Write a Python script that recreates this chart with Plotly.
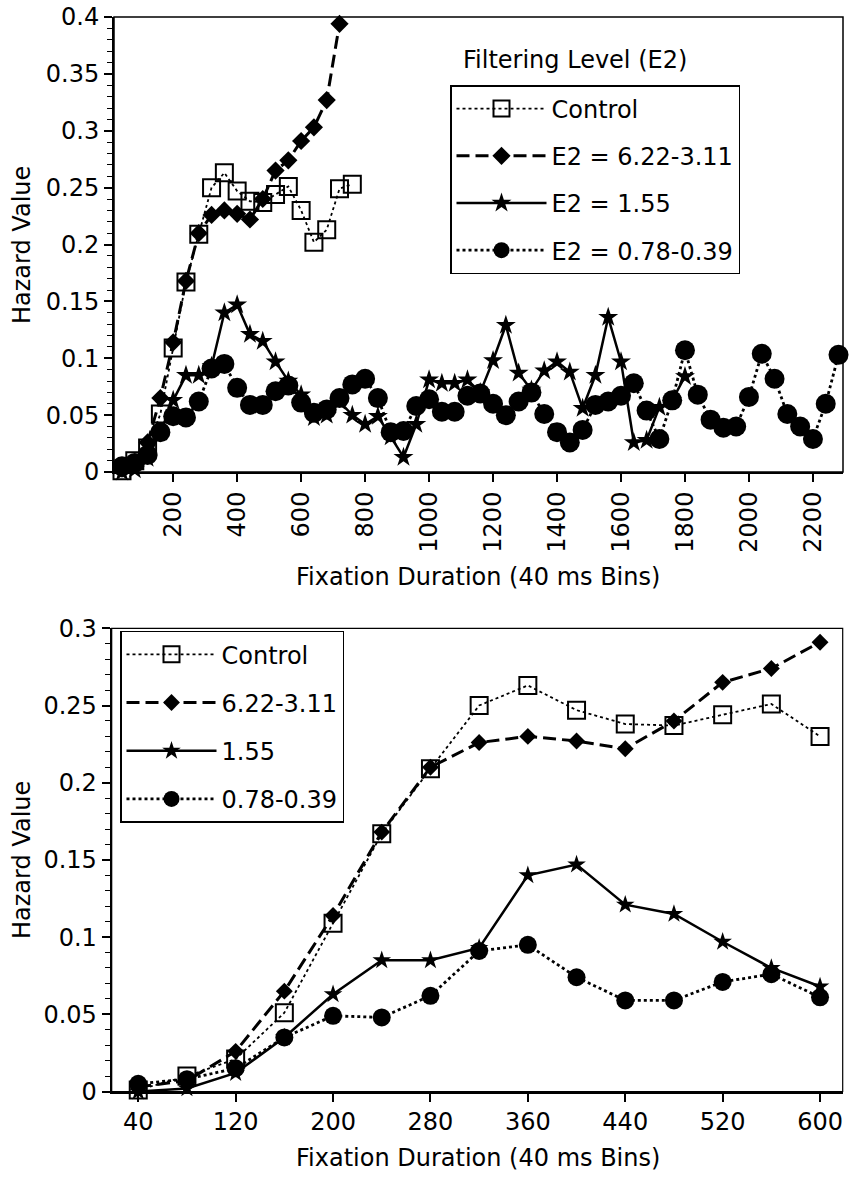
import plotly.graph_objects as go

# ---------------- data ----------------
bins_ms = list(range(40, 2281, 40))   # 40 ms bins: 40 ... 2280

control = [0.001, 0.010, 0.021, 0.051, 0.109, 0.167, 0.209, 0.250, 0.263, 0.247,
           0.238, 0.237, 0.244, 0.251, 0.230, 0.202, 0.213, 0.249, 0.253]
e2_622_311 = [0.003, 0.007, 0.026, 0.065, 0.114, 0.168, 0.210, 0.226, 0.230, 0.227,
              0.222, 0.240, 0.265, 0.274, 0.291, 0.303, 0.327, 0.394]
e2_155 = [0.000, 0.002, 0.012, 0.035, 0.063, 0.085, 0.085, 0.093, 0.140, 0.147,
          0.121, 0.115, 0.097, 0.080, 0.068, 0.048, 0.050, 0.062, 0.050, 0.042,
          0.049, 0.031, 0.013, 0.042, 0.081, 0.078, 0.078, 0.081, 0.070, 0.098,
          0.129, 0.087, 0.072, 0.089, 0.097, 0.088, 0.056, 0.085, 0.136, 0.097,
          0.026, 0.028, 0.057, 0.063, 0.084]
e2_078_039 = [0.005, 0.008, 0.015, 0.035, 0.049, 0.048, 0.062, 0.091, 0.095, 0.074,
              0.059, 0.059, 0.071, 0.076, 0.061, 0.052, 0.055, 0.065, 0.077, 0.082,
              0.065, 0.035, 0.036, 0.058, 0.064, 0.053, 0.053, 0.067, 0.069, 0.060,
              0.050, 0.062, 0.070, 0.051, 0.035, 0.026, 0.037, 0.059, 0.062, 0.067,
              0.078, 0.054, 0.029, 0.063, 0.107, 0.068, 0.046, 0.039, 0.040, 0.066,
              0.104, 0.082, 0.051, 0.040, 0.029, 0.060, 0.103]

series = [control, e2_622_311, e2_155, e2_078_039]
top_labels = ["Control", "E2 = 6.22-3.11", "E2 = 1.55", "E2 = 0.78-0.39"]
bottom_labels = ["Control", "6.22-3.11", "1.55", "0.78-0.39"]
bottom_n_bins = 15   # bottom panel shows the bins up to 600 ms

top_xticks = [200, 400, 600, 800, 1000, 1200, 1400, 1600, 1800, 2000, 2200]
bottom_xticks = [40, 120, 200, 280, 360, 440, 520, 600]

# ---------------- styles ----------------
FONT = "DejaVu Sans"
FS = 24
W, H = 849, 1184

line_styles = [
    dict(color="black", width=1.8, dash="dot"),
    dict(color="black", width=3, dash="13px,6px"),
    dict(color="black", width=2.5),
    dict(color="black", width=2.8, dash="dot"),
]
symbols = ["square-open", "diamond", "star", "circle"]
top_sizes = [17, 14, 15, 20]
bottom_sizes = [17, 13, 14, 18]

fig = go.Figure()

for i, vals in enumerate(series):
    fig.add_trace(go.Scatter(
        x=bins_ms[:len(vals)], y=vals, mode="lines+markers", name=top_labels[i],
        line=line_styles[i],
        marker=dict(symbol=symbols[i], size=top_sizes[i], color="black",
                    line=dict(width=2 if i == 0 else 0, color="black")),
        xaxis="x", yaxis="y", legend="legend", legendgroup="t%d" % i,
        cliponaxis=False,
    ))

for i, vals in enumerate(series):
    fig.add_trace(go.Scatter(
        x=bins_ms[:bottom_n_bins], y=vals[:bottom_n_bins], mode="lines+markers",
        name=bottom_labels[i],
        line=line_styles[i],
        marker=dict(symbol=symbols[i], size=bottom_sizes[i], color="black",
                    line=dict(width=2 if i == 0 else 0, color="black")),
        xaxis="x2", yaxis="y2", legend="legend2", legendgroup="b%d" % i,
        cliponaxis=False,
    ))

tickfont = dict(family=FONT, size=FS, color="black")
common_axis = dict(showline=True, linecolor="black", linewidth=2, ticks="outside",
                   ticklen=8, tickwidth=1.5, tickcolor="black", showgrid=False,
                   zeroline=False, tickfont=tickfont, automargin=False)

top_px = (17, 472)
bot_px = (628.3, 1091.5)

fig.update_layout(
    width=W, height=H, margin=dict(l=0, r=0, t=0, b=0, pad=0, autoexpand=False),
    paper_bgcolor="white", plot_bgcolor="white",
    font=dict(family=FONT, size=FS, color="black"),
    xaxis=dict(domain=[114 / W, 843 / W], range=[15, 2294], tickvals=top_xticks,
               tickangle=-90, anchor="y", **common_axis),
    yaxis=dict(domain=[1 - top_px[1] / H, 1 - top_px[0] / H], range=[0, 0.4],
               tick0=0, dtick=0.05, anchor="x",
               minor=dict(dtick=0.01, ticks="outside", ticklen=5, tickwidth=1.2,
                          tickcolor="black"),
               **common_axis),
    xaxis2=dict(domain=[111.7 / W, 842.7 / W], range=[18.2, 618.6],
                tickvals=bottom_xticks, anchor="y2", **common_axis),
    yaxis2=dict(domain=[1 - bot_px[1] / H, 1 - bot_px[0] / H], range=[0, 0.3],
                tick0=0, dtick=0.05, anchor="x2",
                minor=dict(dtick=0.01, ticks="outside", ticklen=5, tickwidth=1.2,
                           tickcolor="black"),
                **common_axis),
    legend=dict(x=450 / W, y=1 - 85 / H, xanchor="left", yanchor="top",
                bordercolor="black", borderwidth=1.5, bgcolor="white",
                font=dict(family=FONT, size=FS, color="black"),
                itemwidth=90, tracegroupgap=13),
    legend2=dict(x=120 / W, y=1 - 630.7 / H, xanchor="left", yanchor="top",
                 bordercolor="black", borderwidth=1.5, bgcolor="white",
                 font=dict(family=FONT, size=FS, color="black"),
                 itemwidth=90, tracegroupgap=14),
    showlegend=True,
    shapes=[
        dict(type="rect", xref="x domain", yref="y domain", x0=0, x1=1, y0=0, y1=1,
             line=dict(color="black", width=1.5)),
        dict(type="rect", xref="x2 domain", yref="y2 domain", x0=0, x1=1, y0=0, y1=1,
             line=dict(color="black", width=1.2)),
    ],
    annotations=[
        dict(text="Filtering Level (E2)", xref="paper", yref="paper",
             x=461 / W, y=1 - 60 / H, xanchor="left", yanchor="middle",
             showarrow=False, font=dict(family=FONT, size=FS, color="black")),
        dict(text="Hazard Value", xref="paper", yref="paper", x=22 / W,
             y=1 - 245 / H, textangle=-90, xanchor="center", yanchor="middle",
             showarrow=False, font=dict(family=FONT, size=FS, color="black")),
        dict(text="Fixation Duration (40 ms Bins)", xref="paper", yref="paper",
             x=478 / W, y=1 - 577 / H, xanchor="center", yanchor="middle",
             showarrow=False, font=dict(family=FONT, size=FS, color="black")),
        dict(text="Hazard Value", xref="paper", yref="paper", x=22 / W,
             y=1 - 860 / H, textangle=-90, xanchor="center", yanchor="middle",
             showarrow=False, font=dict(family=FONT, size=FS, color="black")),
        dict(text="Fixation Duration (40 ms Bins)", xref="paper", yref="paper",
             x=478 / W, y=1 - 1158 / H, xanchor="center", yanchor="middle",
             showarrow=False, font=dict(family=FONT, size=FS, color="black")),
    ],
)

fig.write_html("out.html")
